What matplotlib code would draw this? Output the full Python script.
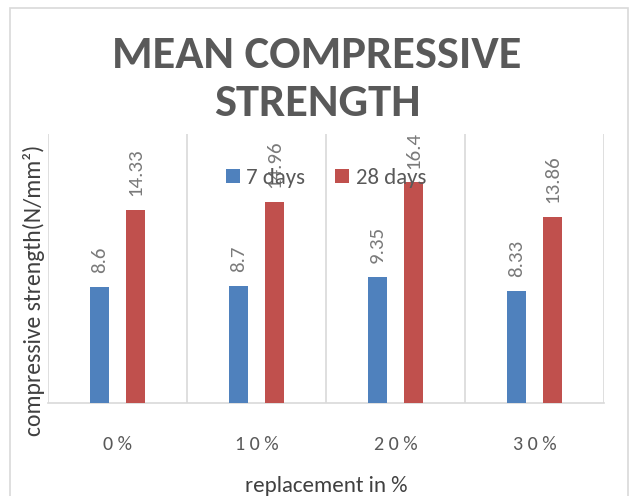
import numpy as np
import matplotlib
matplotlib.use("Agg")
from matplotlib import pyplot as plt
from matplotlib.patches import Rectangle

categories = ["0%", "10%", "20%", "30%"]
days7 = [8.6, 8.7, 9.35, 8.33]
days28 = [14.33, 14.96, 16.4, 13.86]
series_names = ["7 days", "28 days"]

blue = "#4f81bd"
red = "#c0504d"
grid_c = "#d9d9d9"
text_c = "#595959"

plt.rcParams["font.family"] = ["Carlito", "DejaVu Sans"]

fig = plt.figure(figsize=(6.34, 4.96), dpi=100)

# chart area border
fig.add_artist(Rectangle((10 / 634, -0.02), 618 / 634, 1 - 8 / 496 + 0.02,
                         transform=fig.transFigure, fill=False,
                         edgecolor=grid_c, linewidth=1.2))

ax = fig.add_axes([48 / 634, 1 - 403 / 496, 556 / 634, 269 / 496])

x = np.arange(len(categories))
w = 0.14
b1 = ax.bar(x - 0.13, days7, w, color=blue, label=series_names[0], zorder=3)
b2 = ax.bar(x + 0.13, days28, w, color=red, label=series_names[1], zorder=3)

for bars, vals in [(b1, days7), (b2, days28)]:
    for rect, v in zip(bars, vals):
        ax.annotate(f"{v:g}", (rect.get_x() + rect.get_width() / 2, v),
                    xytext=(0, 10), textcoords="offset points",
                    rotation=90, ha="center", va="bottom",
                    fontsize=15, color="#7a7a7a", zorder=4)

ax.set_xlim(-0.5, len(categories) - 0.5)
ax.set_ylim(0, 20)
ax.set_yticks([])
ax.set_xticks(x)
ax.set_xticklabels([" ".join(c) for c in categories], fontsize=14.5, color=text_c)
ax.tick_params(axis="x", length=0, pad=24)

# vertical separators between categories
for b in np.arange(-0.5, len(categories), 1.0):
    ax.axvline(b, color=grid_c, linewidth=1.2, zorder=1)

for side in ["top", "right", "left"]:
    ax.spines[side].set_visible(False)
ax.spines["bottom"].set_color(grid_c)
ax.spines["bottom"].set_linewidth(1.2)

ax.set_ylabel("compressive strength(N/mm²)", fontsize=17, color="#404040")
ax.yaxis.set_label_coords(-0.005, 0.42)
ax.set_xlabel("replacement in %", fontsize=16.5, color="#404040", labelpad=16)

leg = ax.legend(loc="upper center", bbox_to_anchor=(0.5, 0.95), ncol=2,
                frameon=False, fontsize=16.5, handlelength=0.6, handleheight=0.6,
                handletextpad=0.3, columnspacing=1.3)
for t in leg.get_texts():
    t.set_color(text_c)

fig.text(0.5, 1 - 79 / 496, "MEAN COMPRESSIVE\nSTRENGTH", ha="center", va="center",
         fontsize=33.5, fontweight="bold", color=text_c, linespacing=1.25)

fig.savefig("out.png", dpi=100)
